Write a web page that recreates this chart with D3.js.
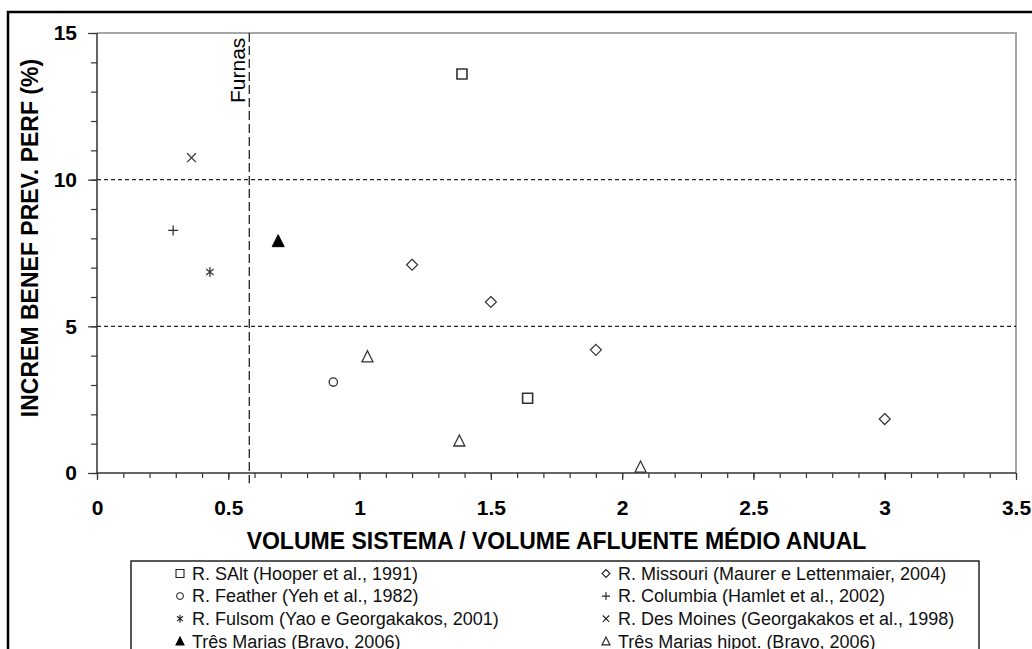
<!DOCTYPE html>
<html><head><meta charset="utf-8">
<script src="https://cdn.jsdelivr.net/npm/d3@7"></script>
<style>
html,body{margin:0;padding:0;background:#fff;}
svg{display:block;font-family:"Liberation Sans",Arial,sans-serif;}
</style></head>
<body><svg id="chart" width="1032" height="649"></svg>
<script>
// ---- data ----
const seriesNames = [
  "R. SAlt (Hooper et al., 1991)",
  "R. Missouri (Maurer e Lettenmaier, 2004)",
  "R. Feather (Yeh et al., 1982)",
  "R. Columbia (Hamlet et al., 2002)",
  "R. Fulsom (Yao e Georgakakos, 2001)",
  "R. Des Moines (Georgakakos et al., 1998)",
  "Três Marias (Bravo, 2006)",
  "Três Marias hipot. (Bravo, 2006)"
];
const saltX = [1.39, 1.64];            const saltY = [13.6, 2.55];
const missouriX = [1.20, 1.50, 1.90, 3.00]; const missouriY = [7.1, 5.83, 4.2, 1.84];
const featherX = [0.90];               const featherY = [3.1];
const columbiaX = [0.29];              const columbiaY = [8.27];
const fulsomX = [0.43];                const fulsomY = [6.85];
const desMoinesX = [0.36];             const desMoinesY = [10.75];
const tresMariasX = [0.69];            const tresMariasY = [7.9];
const hipotX = [1.03, 1.38, 2.07];     const hipotY = [3.96, 1.09, 0.2];
const furnasX = 0.58;
const xTicks = [0, 0.5, 1, 1.5, 2, 2.5, 3, 3.5];
const yTicks = [0, 5, 10, 15];
const gridY = [5, 10];
const xTitle = "VOLUME SISTEMA / VOLUME AFLUENTE MÉDIO ANUAL";
const yTitle = "INCREM BENEF PREV. PERF (%)";
const furnasLabel = "Furnas";

// ---- layout ----
const svg = d3.select("#chart");
const L = 97, R = 1016, T = 33, B = 473;
const x = d3.scaleLinear().domain([0, 3.5]).range([L, R]);
const y = d3.scaleLinear().domain([0, 15]).range([B, T]);
const ink = "#333";

// outer frame
svg.append("rect").attr("x", 8).attr("y", 12).attr("width", 1040).attr("height", 660)
  .attr("fill", "#fff").attr("stroke", "#000").attr("stroke-width", 2.5);

// plot frame top/right gray
svg.append("path").attr("d", `M${L},${T}H${R}V${B}`).attr("fill", "none")
  .attr("stroke", "#a6a6a6").attr("stroke-width", 2);

// gridlines
svg.selectAll(".grid").data(gridY).join("line")
  .attr("x1", L).attr("x2", R).attr("y1", d => y(d)).attr("y2", d => y(d))
  .attr("stroke", "#222").attr("stroke-width", 1.2).attr("stroke-dasharray", "4,3");

// Furnas line
svg.append("line").attr("x1", x(furnasX)).attr("x2", x(furnasX))
  .attr("y1", y(15)).attr("y2", y(-0.35))
  .attr("stroke", "#222").attr("stroke-width", 1.3).attr("stroke-dasharray", "9,4");
svg.append("text").text(furnasLabel)
  .attr("transform", `translate(${x(furnasX) - 4},${y(15) + 70}) rotate(-90)`)
  .attr("font-size", 21).attr("fill", "#000");

// x axis
const xMinor = d3.range(0, 36).map(i => i / 10);
const gx = svg.append("g").attr("transform", `translate(0,${B})`);
gx.call(d3.axisBottom(x).tickValues(xMinor).tickSize(5).tickFormat(""));
gx.select(".domain").remove();
gx.selectAll("line").attr("stroke", ink).attr("stroke-width", 1.2);
const gx2 = svg.append("g").attr("transform", `translate(0,${B})`);
gx2.call(d3.axisBottom(x).tickValues(xTicks).tickSize(7).tickPadding(20).tickFormat(d3.format("")));
gx2.select(".domain").remove();
gx2.selectAll("line").attr("stroke", ink).attr("stroke-width", 1.2);
gx2.selectAll("text").attr("font-size", 21).attr("font-weight", "bold").attr("fill", "#000")
  .attr("font-family", "Liberation Sans, Arial, sans-serif");
svg.append("line").attr("x1", L).attr("x2", R).attr("y1", B).attr("y2", B)
  .attr("stroke", ink).attr("stroke-width", 1.5);

// y axis
const yMinor = d3.range(0, 16);
const gy = svg.append("g").attr("transform", `translate(${L},0)`);
gy.call(d3.axisLeft(y).tickValues(yMinor).tickSize(6).tickFormat(""));
gy.select(".domain").remove();
gy.selectAll("line").attr("stroke", ink).attr("stroke-width", 1.2);
const gy2 = svg.append("g").attr("transform", `translate(${L},0)`);
gy2.call(d3.axisLeft(y).tickValues(yTicks).tickSize(9).tickPadding(11).tickFormat(d3.format("")));
gy2.select(".domain").remove();
gy2.selectAll("line").attr("stroke", ink).attr("stroke-width", 1.2);
gy2.selectAll("text").attr("font-size", 21).attr("font-weight", "bold").attr("fill", "#000")
  .attr("font-family", "Liberation Sans, Arial, sans-serif");
svg.append("line").attr("x1", L).attr("x2", L).attr("y1", T).attr("y2", B)
  .attr("stroke", ink).attr("stroke-width", 1.5);

// titles
svg.append("text").text(xTitle).attr("x", (L + R) / 2).attr("y", 549)
  .attr("text-anchor", "middle").attr("font-size", 23).attr("font-weight", "bold").attr("fill", "#000");
svg.append("text").text(yTitle).attr("transform", `translate(38,238) rotate(-90)`)
  .attr("text-anchor", "middle").attr("font-size", 23).attr("font-weight", "bold").attr("fill", "#000");

// ---- marker drawing ----
function markerPath(kind, s) {
  const h = s / 2;
  switch (kind) {
    case "square": return `M${-h},${-h}H${h}V${h}H${-h}Z`;
    case "diamond": return `M0,${-h}L${h},0L0,${h}L${-h},0Z`;
    case "circle": return d3.symbol(d3.symbolCircle, Math.PI * h * h * 0.7)();
    case "triangle": return `M0,${-h * 1.1}L${h},${h * 0.9}L${-h},${h * 0.9}Z`;
    case "plus": return `M${-h},0H${h}M0,${-h}V${h}`;
    case "x": { const k = h * 0.8; return `M${-k},${-k}L${k},${k}M${-k},${k}L${k},${-k}`; }
    case "star": { const k = h * 0.75; return `M0,${-h}V${h}M${-k},${-k * 0.8}L${k},${k * 0.8}M${-k},${k * 0.8}L${k},${-k * 0.8}`; }
  }
}
const series = [
  { name: seriesNames[0], xs: saltX, ys: saltY, kind: "square", size: 10, fill: "none", sw: 1.6 },
  { name: seriesNames[1], xs: missouriX, ys: missouriY, kind: "diamond", size: 11, fill: "none", sw: 1.2 },
  { name: seriesNames[2], xs: featherX, ys: featherY, kind: "circle", size: 10, fill: "none", sw: 1.3 },
  { name: seriesNames[3], xs: columbiaX, ys: columbiaY, kind: "plus", size: 10, fill: "none", sw: 1.3 },
  { name: seriesNames[4], xs: fulsomX, ys: fulsomY, kind: "star", size: 10, fill: "none", sw: 1.2 },
  { name: seriesNames[5], xs: desMoinesX, ys: desMoinesY, kind: "x", size: 11, fill: "none", sw: 1.2 },
  { name: seriesNames[6], xs: tresMariasX, ys: tresMariasY, kind: "triangle", size: 12, fill: "#000", sw: 1 },
  { name: seriesNames[7], xs: hipotX, ys: hipotY, kind: "triangle", size: 11, fill: "none", sw: 1.3 }
];
series.forEach(s => {
  svg.append("g").selectAll("path").data(s.xs.map((v, i) => [v, s.ys[i]])).join("path")
    .attr("transform", d => `translate(${x(d[0])},${y(d[1])})`)
    .attr("d", markerPath(s.kind, s.size))
    .attr("fill", s.fill).attr("stroke", s.fill === "none" ? ink : "#000").attr("stroke-width", s.sw);
});

// ---- legend ----
const lg = svg.append("g");
lg.append("rect").attr("x", 131).attr("y", 561).attr("width", 848).attr("height", 120)
  .attr("fill", "#fff").attr("stroke", "#222").attr("stroke-width", 1.5);
series.forEach((s, i) => {
  const col = i % 2, row = Math.floor(i / 2);
  const mx = col === 0 ? 180 : 606, ty = 573.5 + row * 22.6;
  lg.append("path").attr("transform", `translate(${mx},${ty})`)
    .attr("d", markerPath(s.kind, 8)).attr("fill", s.fill)
    .attr("stroke", s.fill === "none" ? "#222" : "#000").attr("stroke-width", 1.1);
  lg.append("text").text(s.name).attr("x", mx + 12).attr("y", ty).attr("dy", "0.35em")
    .attr("font-size", 18).attr("fill", "#111");
});
</script></body></html>
